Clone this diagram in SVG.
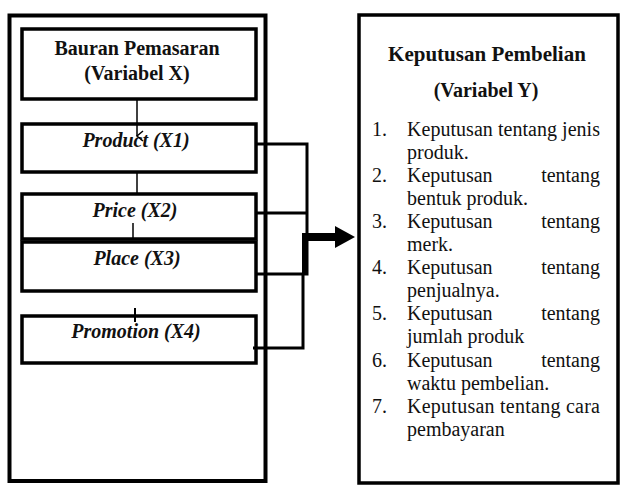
<svg xmlns="http://www.w3.org/2000/svg" width="623" height="495" viewBox="0 0 623 495">
<style>
.box{fill:#fff;stroke:#000;stroke-width:3.5}
.outer{fill:#fff;stroke:#000;stroke-width:4}
.h{font-family:"Liberation Serif","Times New Roman",serif;font-weight:bold;font-size:20px;fill:#111;text-anchor:middle}
.hi{font-family:"Liberation Serif","Times New Roman",serif;font-weight:bold;font-style:italic;font-size:20px;fill:#111;text-anchor:middle}
.t{font-family:"Liberation Serif","Times New Roman",serif;font-size:20px;fill:#111}
.c{fill:none;stroke:#000;stroke-width:3}
.thin{fill:none;stroke:#000;stroke-width:1.5}
</style>
<defs>
<marker id="vhead" markerUnits="userSpaceOnUse" markerWidth="12" markerHeight="12" refX="6" refY="8" orient="auto-start-reverse" viewBox="0 0 12 12">
<path d="M1,2 L6,8 L11,2" fill="none" stroke="#000" stroke-width="1.5"/>
</marker>
<marker id="bighead" markerUnits="userSpaceOnUse" markerWidth="22" markerHeight="24" refX="1" refY="12" orient="auto" viewBox="0 0 22 24">
<path d="M0,1 L20,12 L0,23 z" fill="#000"/>
</marker>
</defs>
<rect width="623" height="495" fill="#fff"/>
<g id="variabel-x">
<rect class="outer" x="9.5" y="15.5" width="256" height="465.5"/>
</g>
<g id="bauran">
<rect class="box" x="22" y="29" width="234" height="70"/>
<text class="h" x="137" y="55">Bauran Pemasaran</text>
<text class="h" x="137" y="80">(Variabel X)</text>
</g>
<g id="product">
<rect class="box" x="22" y="124" width="234" height="48"/>
<text class="hi" x="136" y="147">Product (X1)</text>
</g>
<g id="price">
<rect class="box" x="22" y="194" width="234" height="45"/>
<text class="hi" x="135" y="217">Price (X2)</text>
</g>
<g id="place">
<rect class="box" x="22" y="242" width="234" height="49"/>
<text class="hi" x="137" y="265">Place (X3)</text>
</g>
<g id="promotion">
<rect class="box" x="22" y="316" width="234" height="47"/>
<text class="hi" x="136" y="338">Promotion (X4)</text>
</g>
<g id="variabel-y">
<rect class="box" x="359" y="15" width="259" height="468"/>
<text class="h" x="487" y="61" style="font-size:21px">Keputusan Pembelian</text>
<text class="h" x="486" y="97">(Variabel Y)</text>
<text class="t"><tspan x="372" y="136">1.</tspan><tspan x="407" y="136" textLength="193" lengthAdjust="spacing">Keputusan tentang jenis</tspan></text>
<text class="t" x="407" y="159">produk.</text>
<text class="t"><tspan x="372" y="182">2.</tspan><tspan x="407" y="182">Keputusan</tspan><tspan x="600" y="182" text-anchor="end">tentang</tspan></text>
<text class="t" x="407" y="205">bentuk produk.</text>
<text class="t"><tspan x="372" y="228">3.</tspan><tspan x="407" y="228">Keputusan</tspan><tspan x="600" y="228" text-anchor="end">tentang</tspan></text>
<text class="t" x="407" y="251">merk.</text>
<text class="t"><tspan x="372" y="274">4.</tspan><tspan x="407" y="274">Keputusan</tspan><tspan x="600" y="274" text-anchor="end">tentang</tspan></text>
<text class="t" x="407" y="297">penjualnya.</text>
<text class="t"><tspan x="372" y="320">5.</tspan><tspan x="407" y="320">Keputusan</tspan><tspan x="600" y="320" text-anchor="end">tentang</tspan></text>
<text class="t" x="407" y="343">jumlah produk</text>
<text class="t"><tspan x="372" y="367">6.</tspan><tspan x="407" y="367">Keputusan</tspan><tspan x="600" y="367" text-anchor="end">tentang</tspan></text>
<text class="t" x="407" y="390">waktu pembelian.</text>
<text class="t"><tspan x="372" y="413">7.</tspan><tspan x="407" y="413" textLength="193" lengthAdjust="spacing">Keputusan tentang cara</tspan></text>
<text class="t" x="407" y="436">pembayaran</text>
</g>
<g id="connectors">
<line class="thin" x1="137" y1="99" x2="137" y2="136" marker-end="url(#vhead)"/>
<line class="thin" x1="137" y1="172" x2="137" y2="194"/>
<line class="thin" x1="133" y1="223" x2="133" y2="240"/>
<line class="c" style="stroke-width:2" x1="135" y1="308" x2="135" y2="322"/>
<polyline class="c" points="257,144 307,144 307,274 257,274"/>
<line class="c" x1="257" y1="213" x2="307" y2="213"/>
<polyline class="c" points="253,348 303,348 303,274"/>
<line class="c" style="stroke-width:5" x1="304.5" y1="233" x2="304.5" y2="274"/>
<line stroke="#000" stroke-width="8" x1="302" y1="237" x2="336" y2="237" marker-end="url(#bighead)"/>
</g>
</svg>
